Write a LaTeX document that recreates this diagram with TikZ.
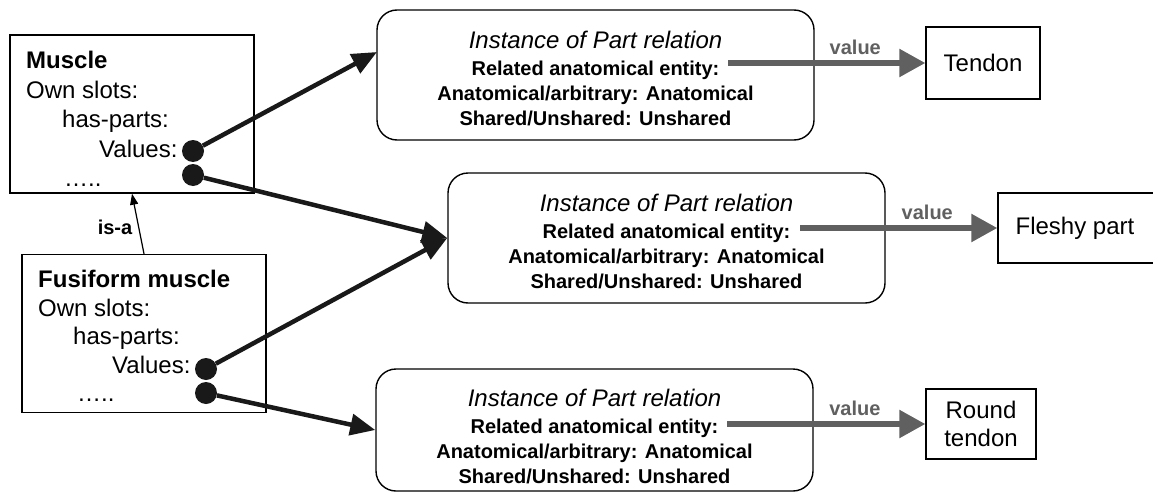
\documentclass[tikz,border=0pt]{standalone}
\usepackage{fontspec}
\setmainfont{Liberation Sans}
\usepackage{xcolor}
\usetikzlibrary{arrows.meta}
\definecolor{valgray}{RGB}{96,96,96}

\begin{document}
\begin{tikzpicture}[x=1pt,y=-1pt,
  framebox/.style={draw,line width=1.4pt,inner sep=0pt},
  slotbox/.style={framebox,rectangle,minimum width=244pt,minimum height=158pt},
  relbox/.style={framebox,rounded corners=20pt,minimum width=437pt,minimum height=130pt,align=center,font=\fontsize{20}{25}\selectfont\bfseries},
  partbox/.style={framebox,align=center,font=\fontsize{24}{28}\selectfont},
  slottext/.style={anchor=north west,align=left,inner sep=0pt},
  slot/.style={circle,fill=black!90,minimum size=22pt,inner sep=0pt},
  haspart/.style={-{Triangle[length=25pt,width=21pt]},line width=4.5pt,black!90},
  valarrow/.style={-{Triangle[length=26pt,width=27pt]},line width=5.5pt,valgray},
  vallabel/.style={font=\fontsize{20}{20}\selectfont\bfseries,text=valgray,pos=0.645,yshift=16pt}]
  \useasboundingbox (0,0) rectangle (1153,495);
  % frames with own slots
  \node[slotbox] (muscle) at (132,114) {};
  \node[slotbox] (fusi) at (144,333.5) {};
  \node[slottext,font=\fontsize{24}{29.5}\selectfont] (muscletxt) at (26,51) {\textbf{Muscle}\\Own slots:\\\hspace*{36pt}has-parts:\\\hspace*{73pt}Values:\\\hspace*{38pt}…..};
  \node[slottext,font=\fontsize{24}{28.5}\selectfont] (fusitxt) at (38,270) {\textbf{Fusiform muscle}\\Own slots:\\\hspace*{35pt}has-parts:\\\hspace*{74pt}Values:\\\hspace*{39pt}…..};
  \node[slot] (m1) at (193,151) {};
  \node[slot] (m2) at (193,175) {};
  \node[slot] (f1) at (206,369) {};
  \node[slot] (f2) at (206,393) {};
  \draw[-{Triangle[length=11pt,width=8pt]},line width=1.2pt] (fusi.north) -- (muscle.south);
  \node[font=\fontsize{20}{20}\selectfont\bfseries] (isa) at (115,227) {is-a};
  % part relation instances
  \node[relbox] (rel1) at (595.5,75) {{\fontsize{24}{24}\selectfont\mdseries\itshape\rule{0pt}{24pt}Instance of Part relation}\\[2pt]Related anatomical entity:\\Anatomical/arbitrary: Anatomical\\Shared/Unshared: Unshared};
  \node[relbox] (rel2) at (666.5,238) {{\fontsize{24}{24}\selectfont\mdseries\itshape\rule{0pt}{24pt}Instance of Part relation}\\[2pt]Related anatomical entity:\\Anatomical/arbitrary: Anatomical\\Shared/Unshared: Unshared};
  \node[relbox,minimum height=122pt] (rel3) at (594.5,430) {{\fontsize{24}{24}\selectfont\mdseries\itshape\rule{0pt}{31pt}Instance of Part relation}\\[2pt]Related anatomical entity:\\Anatomical/arbitrary: Anatomical\\Shared/Unshared: Unshared};
  \coordinate (t1) at (377,52);
  \draw[haspart] (m1) -- (t1);
  \draw[haspart] (m2) -- (rel2.west);
  \draw[haspart] (f1) -- (rel2.west);
  \draw[haspart] (f2) -- (rel3.west);
  % parts
  \node[partbox,minimum width=114pt,minimum height=72pt] (tendon) at (983,63) {Tendon};
  \node[partbox,minimum width=170pt,minimum height=70pt] (fleshy) at (1083,228) {\hspace*{-16pt}Fleshy part};
  \node[partbox,minimum width=110pt,minimum height=70pt] (roundt) at (981,424) {Round\\tendon};
  \coordinate (v1) at (728,63);
  \coordinate (v2) at (800,228);
  \coordinate (v3) at (727,424);
  \draw[valarrow] (v1) -- (tendon.west) node[vallabel] (val1) {value};
  \draw[valarrow] (v2) -- (fleshy.west) node[vallabel] (val2) {value};
  \draw[valarrow] (v3) -- (roundt.west) node[vallabel] (val3) {value};
\end{tikzpicture}
\end{document}
